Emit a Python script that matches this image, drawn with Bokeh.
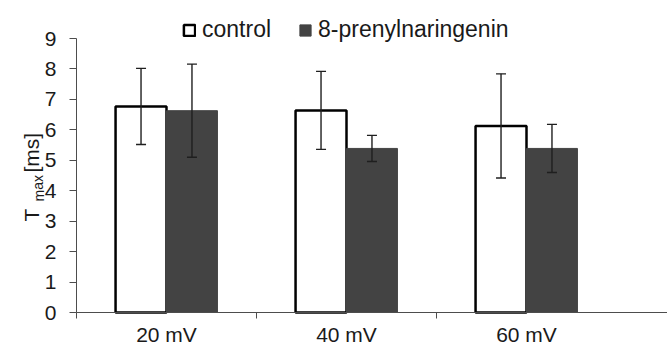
from bokeh.plotting import figure
from bokeh.models import (Range1d, FixedTicker, Legend, LegendItem, Whisker, TeeHead,
                          ColumnDataSource, Label)
from bokeh.embed import file_html
from bokeh.resources import INLINE

categories = ["20 mV", "40 mV", "60 mV"]
control = [6.77, 6.64, 6.13]
control_err = [1.25, 1.28, 1.71]
prenyl = [6.63, 5.39, 5.39]
prenyl_err = [1.53, 0.43, 0.79]
series_names = ["control", "8-prenylnaringenin"]
y_ticks = [0, 1, 2, 3, 4, 5, 6, 7, 8, 9]

FONT = "Liberation Sans"
W, H = 667, 348
# pixel layout of the drawing area
PX_PER_CAT = 180.0
PX_PER_UNIT = 30.44
Y0_PX = 312          # y pixel of value 0
X1_PX = 166          # x pixel of first category centre

xs = list(range(1, len(categories) + 1))
x_start = 1 - X1_PX / PX_PER_CAT
x_end = x_start + W / PX_PER_CAT
y_start = -(H - Y0_PX) / PX_PER_UNIT
y_end = Y0_PX / PX_PER_UNIT
bw = 0.283
off = bw / 2

p = figure(width=W, height=H, output_backend="svg", toolbar_location=None,
           x_range=Range1d(x_start, x_end), y_range=Range1d(y_start, y_end),
           min_border=0, min_border_left=0, min_border_right=0,
           min_border_top=0, min_border_bottom=0)
p.outline_line_color = None
p.xgrid.grid_line_color = None
p.ygrid.grid_line_color = None
p.background_fill_color = "white"
p.border_fill_color = "white"

src_c = ColumnDataSource(dict(x=[v - off for v in xs], top=control,
                              up=[a + b for a, b in zip(control, control_err)],
                              lo=[a - b for a, b in zip(control, control_err)]))
src_p = ColumnDataSource(dict(x=[v + off for v in xs], top=prenyl,
                              up=[a + b for a, b in zip(prenyl, prenyl_err)],
                              lo=[a - b for a, b in zip(prenyl, prenyl_err)]))

r_c = p.vbar(x="x", top="top", width=bw, bottom=0, source=src_c,
             fill_color="white", line_color="black", line_width=2.5)
r_p = p.vbar(x="x", top="top", width=bw, bottom=0, source=src_p,
             fill_color="#434343", line_color="#434343", line_width=1)

for src in (src_c, src_p):
    w = Whisker(base="x", upper="up", lower="lo", source=src, level="annotation",
                line_color="#1f1f1f", line_width=1.4,
                upper_head=TeeHead(size=10, line_color="#1f1f1f", line_width=1.4),
                lower_head=TeeHead(size=10, line_color="#1f1f1f", line_width=1.4))
    p.add_layout(w)

# x axis
xa = p.xaxis[0]
xa.fixed_location = 0
xa.bounds = (0.5, x_end)
xa.ticker = FixedTicker(ticks=xs, minor_ticks=[0.5, 1.5, 2.5])
xa.major_label_overrides = {x: c for x, c in zip(xs, categories)}
xa.major_tick_line_color = None
xa.major_tick_out = 0
xa.major_tick_in = 0
xa.minor_tick_out = 6
xa.minor_tick_in = 0
xa.minor_tick_line_color = "#4d4d4d"
xa.axis_line_color = "#4d4d4d"
xa.major_label_text_font = FONT
xa.major_label_text_font_size = "21px"
xa.major_label_text_color = "#1a1a1a"
xa.major_label_standoff = 4

ya = p.yaxis[0]
ya.fixed_location = 0.5
ya.bounds = (0, 9)
ya.ticker = FixedTicker(ticks=y_ticks)
ya.minor_tick_line_color = None
ya.major_tick_out = 7
ya.major_tick_in = 0
ya.major_tick_line_color = "#4d4d4d"
ya.axis_line_color = "#4d4d4d"
ya.major_label_text_font = FONT
ya.major_label_text_font_size = "21px"
ya.major_label_text_color = "#1a1a1a"
ya.major_label_standoff = 13

# y axis title: T_max [ms]  (screen px from bottom-left)
for txt, x, y, size in [("T", 31, 127, "21px"), ("max", 38, 147, "14px"),
                        ("[ms]", 31, 176, "21px")]:
    p.add_layout(Label(x=x, y=y, x_units="screen", y_units="screen", text=txt,
                       angle=1.5708, text_align="left", text_baseline="alphabetic",
                       text_font=FONT, text_font_size=size, text_color="#1a1a1a"))

legend = Legend(items=[LegendItem(label=series_names[0], renderers=[r_c]),
                       LegendItem(label=series_names[1], renderers=[r_p])],
                location=(182, 305), orientation="horizontal",
                glyph_width=14, glyph_height=14, label_standoff=6, spacing=27,
                padding=0, margin=0, border_line_color=None, background_fill_alpha=0,
                label_text_font=FONT, label_text_font_size="23px",
                label_text_color="#1a1a1a", label_height=20)
p.add_layout(legend)

open("out.html", "w").write(file_html(p, INLINE))
